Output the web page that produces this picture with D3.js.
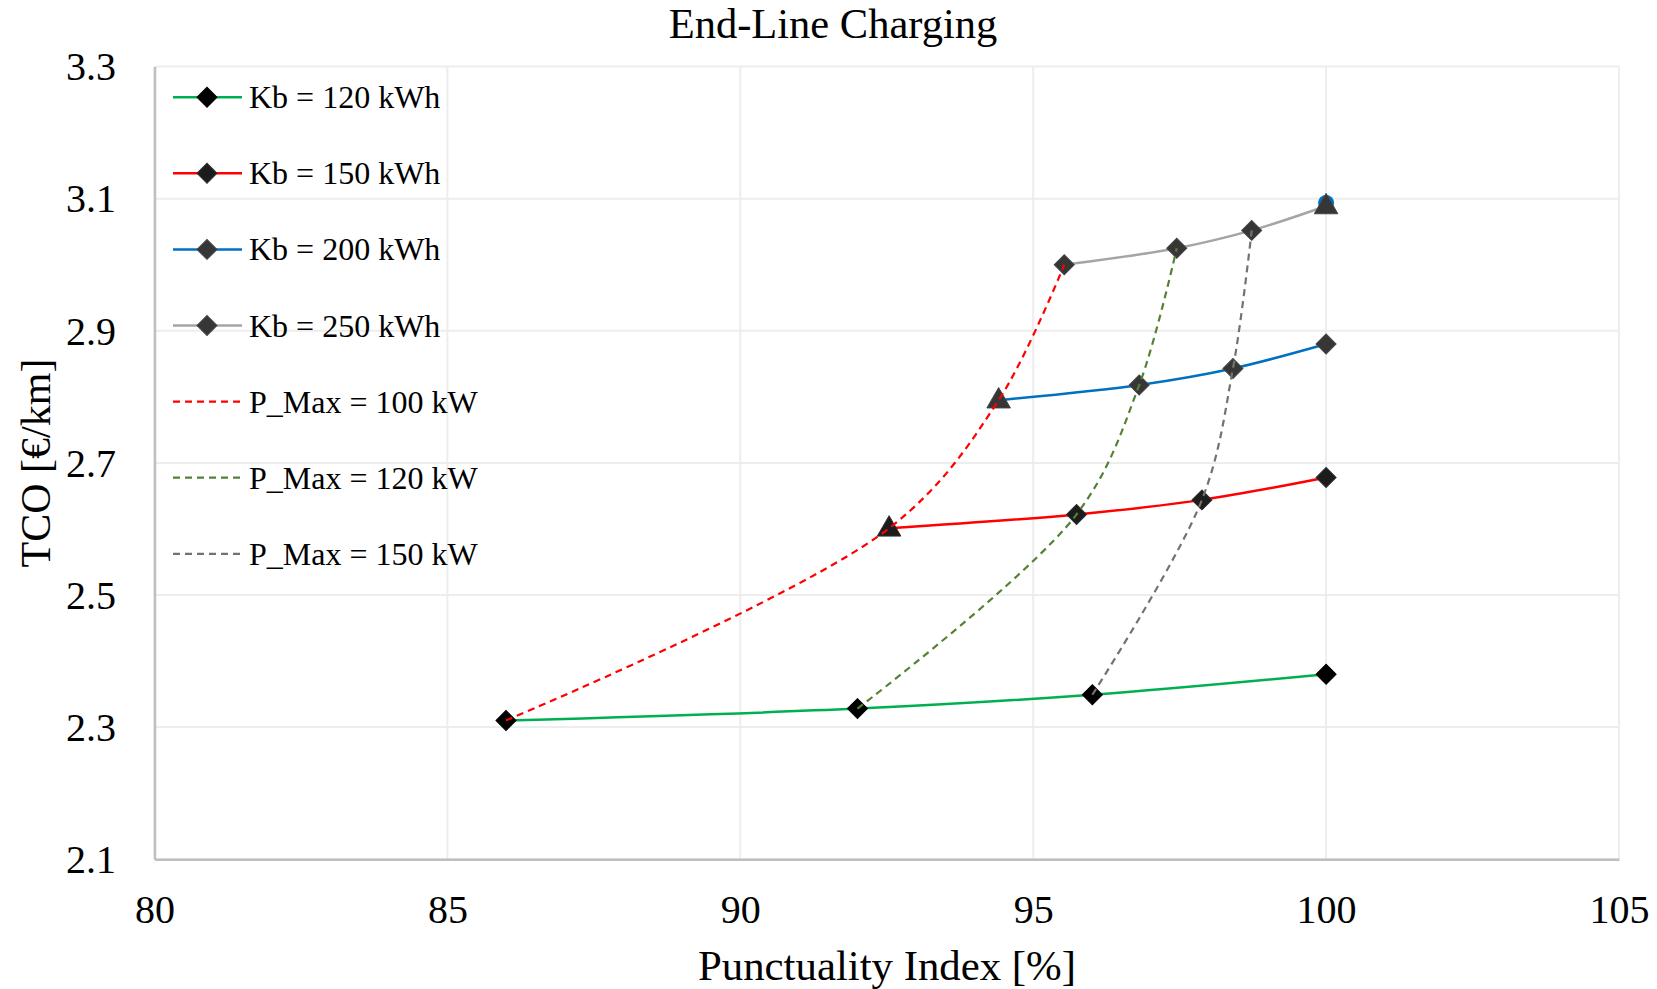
<!DOCTYPE html>
<html>
<head>
<meta charset="utf-8">
<script src="https://cdn.jsdelivr.net/npm/d3@7"></script>
<style>
  html, body { margin: 0; padding: 0; background: #fff; }
  svg { display: block; }
  text { font-family: "Liberation Serif", "Times New Roman", serif; fill: #000; }
</style>
</head>
<body>
<svg id="chart" width="1657" height="989"></svg>
<script>
// ---------------- DATA ----------------
const chartTitle = "End-Line Charging";
const xAxisTitle = "Punctuality Index [%]";
const yAxisTitle = "TCO [€/km]";
const xTicks = [80, 85, 90, 95, 100, 105];
const yTicks = [2.1, 2.3, 2.5, 2.7, 2.9, 3.1, 3.3];

const kbNames = ["Kb = 120 kWh", "Kb = 150 kWh", "Kb = 200 kWh", "Kb = 250 kWh"];
const kb120X = [86.0, 92.0, 96.01, 100];
const kb120Y = [2.310, 2.328, 2.349, 2.380];
const kb150X = [92.54, 95.74, 97.88, 100];
const kb150Y = [2.601, 2.622, 2.644, 2.678];
const kb200X = [94.41, 96.81, 98.41, 100];
const kb200Y = [2.795, 2.818, 2.843, 2.880];
const kb250X = [95.53, 97.45, 98.73, 100];
const kb250Y = [3.000, 3.025, 3.052, 3.089];
// marker shape of each point ("d" diamond, "t" triangle)
const kb120Shape = ["d", "d", "d", "d"];
const kb150Shape = ["t", "d", "d", "d"];
const kb200Shape = ["t", "d", "d", "d"];
const kb250Shape = ["d", "d", "d", "t"];

const pmaxNames = ["P_Max = 100 kW", "P_Max = 120 kW", "P_Max = 150 kW"];
const pmax100X = [86.0, 92.54, 94.41, 95.53];
const pmax100Y = [2.310, 2.601, 2.795, 3.000];
const pmax120X = [92.0, 95.74, 96.81, 97.45];
const pmax120Y = [2.328, 2.622, 2.818, 3.025];
const pmax150X = [96.01, 97.88, 98.41, 98.73];
const pmax150Y = [2.349, 2.644, 2.843, 3.052];

// ---------------- BUILD ----------------
const kbSeries = [
  { name: kbNames[0], x: kb120X, y: kb120Y, shape: kb120Shape, color: "#00b050", mfill: "#000000", mstroke: "#000000" },
  { name: kbNames[1], x: kb150X, y: kb150Y, shape: kb150Shape, color: "#ff0000", mfill: "#1c1c1c", mstroke: "#2e2e2e" },
  { name: kbNames[2], x: kb200X, y: kb200Y, shape: kb200Shape, color: "#0070c0", mfill: "#363636", mstroke: "#444444" },
  { name: kbNames[3], x: kb250X, y: kb250Y, shape: kb250Shape, color: "#a5a5a5", mfill: "#363636", mstroke: "#444444" }
];
const pmSeries = [
  { name: pmaxNames[0], x: pmax100X, y: pmax100Y, color: "#ff0000" },
  { name: pmaxNames[1], x: pmax120X, y: pmax120Y, color: "#548235" },
  { name: pmaxNames[2], x: pmax150X, y: pmax150Y, color: "#767171" }
];

const svg = d3.select("#chart");
const L = 154.5, R = 1619, T = 66.6, B = 859.2;

const x = d3.scaleLinear().domain([80, 105]).range([L, R]);
const y = d3.scaleLinear().domain([2.1, 3.3]).range([B, T]);

// gridlines
const grid = svg.append("g");
grid.selectAll("line.h").data(yTicks).enter().append("line")
  .attr("x1", L).attr("x2", R)
  .attr("y1", d => y(d)).attr("y2", d => y(d))
  .attr("stroke", "#ededed").attr("stroke-width", 2);
grid.selectAll("line.v").data(xTicks).enter().append("line")
  .attr("y1", T).attr("y2", B)
  .attr("x1", d => x(d)).attr("x2", d => x(d))
  .attr("stroke", "#ededed").attr("stroke-width", 2);

// axes
const xAxis = d3.axisBottom(x).tickValues(xTicks).tickSize(0).tickPadding(0).tickFormat(d3.format("d"));
const gx = svg.append("g").attr("transform", `translate(0,${B})`).call(xAxis);
gx.select(".domain").attr("stroke", "#bfbfbf").attr("stroke-width", 2.5);
gx.selectAll("text").attr("font-size", 40).attr("y", 64).attr("dy", 0)
  .attr("font-family", "Liberation Serif").attr("fill", "#000");

const yAxis = d3.axisLeft(y).tickValues(yTicks).tickSize(0).tickFormat(d3.format(".1f"));
const gy = svg.append("g").attr("transform", `translate(${L},0)`).call(yAxis);
gy.select(".domain").attr("stroke", "#bfbfbf").attr("stroke-width", 2.5);
gy.selectAll("text").attr("font-size", 40).attr("x", 116 - L).attr("dy", "0.33em")
  .attr("font-family", "Liberation Serif").attr("fill", "#000");

// titles
svg.append("text").attr("x", 833).attr("y", 38).attr("text-anchor", "middle")
  .attr("font-size", 42.5).text(chartTitle);
svg.append("text").attr("x", 887).attr("y", 980).attr("text-anchor", "middle")
  .attr("font-size", 42.8).text(xAxisTitle);
svg.append("text").attr("transform", "translate(50,463) rotate(-90)")
  .attr("text-anchor", "middle").attr("font-size", 42).text(yAxisTitle);

// marker helpers
const diamond = d3.symbol().type(d3.symbolSquare).size(200);
const triangle = d3.symbol().type(d3.symbolTriangle).size(240);
function drawMarker(g, cx, cy, shape, fill, stroke) {
  if (shape === "t") {
    g.append("path").attr("d", triangle())
      .attr("transform", `translate(${cx},${cy + 1})`)
      .attr("fill", fill).attr("stroke", stroke).attr("stroke-width", 1);
  } else {
    g.append("path").attr("d", diamond())
      .attr("transform", `translate(${cx},${cy}) rotate(45)`)
      .attr("fill", fill).attr("stroke", stroke).attr("stroke-width", 1);
  }
}

const smooth = d3.line().curve(d3.curveCatmullRom.alpha(0.5));

// solid Kb lines
const gLines = svg.append("g");
kbSeries.forEach(s => {
  const pts = s.x.map((v, i) => [x(v), y(s.y[i])]);
  gLines.append("path").attr("d", smooth(pts)).attr("fill", "none")
    .attr("stroke", s.color).attr("stroke-width", 2.5);
});

// markers
const gMarkers = svg.append("g");
// blue marker hidden behind the last triangle
gMarkers.append("circle").attr("cx", x(kb250X[3])).attr("cy", y(kb250Y[3]) - 3)
  .attr("r", 8).attr("fill", "#0070c0");
kbSeries.forEach(s => {
  s.x.forEach((v, i) => {
    drawMarker(gMarkers, x(v), y(s.y[i]), s.shape[i], s.mfill, s.mstroke);
  });
});

// dashed P_Max lines (on top)
const gDash = svg.append("g");
pmSeries.forEach(s => {
  const pts = s.x.map((v, i) => [x(v), y(s.y[i])]);
  gDash.append("path").attr("d", smooth(pts)).attr("fill", "none")
    .attr("stroke", s.color).attr("stroke-width", 2.2)
    .attr("stroke-dasharray", "7,5");
});

// legend
const legend = svg.append("g");
const legY0 = 97.2, legDy = 76.1;
kbSeries.forEach((s, i) => {
  const ly = legY0 + i * legDy;
  legend.append("line").attr("x1", 173).attr("x2", 242).attr("y1", ly).attr("y2", ly)
    .attr("stroke", s.color).attr("stroke-width", 2.5);
  drawMarker(legend, 207, ly, "d", s.mfill, s.mstroke);
  legend.append("text").attr("x", 249).attr("y", ly + 11).attr("font-size", 32).text(s.name);
});
pmSeries.forEach((s, j) => {
  const ly = legY0 + (j + 4) * legDy;
  legend.append("line").attr("x1", 173).attr("x2", 240).attr("y1", ly).attr("y2", ly)
    .attr("stroke", s.color).attr("stroke-width", 2.2).attr("stroke-dasharray", "7,5");
  legend.append("text").attr("x", 249).attr("y", ly + 11).attr("font-size", 32).text(s.name);
});
</script>
</body>
</html>
